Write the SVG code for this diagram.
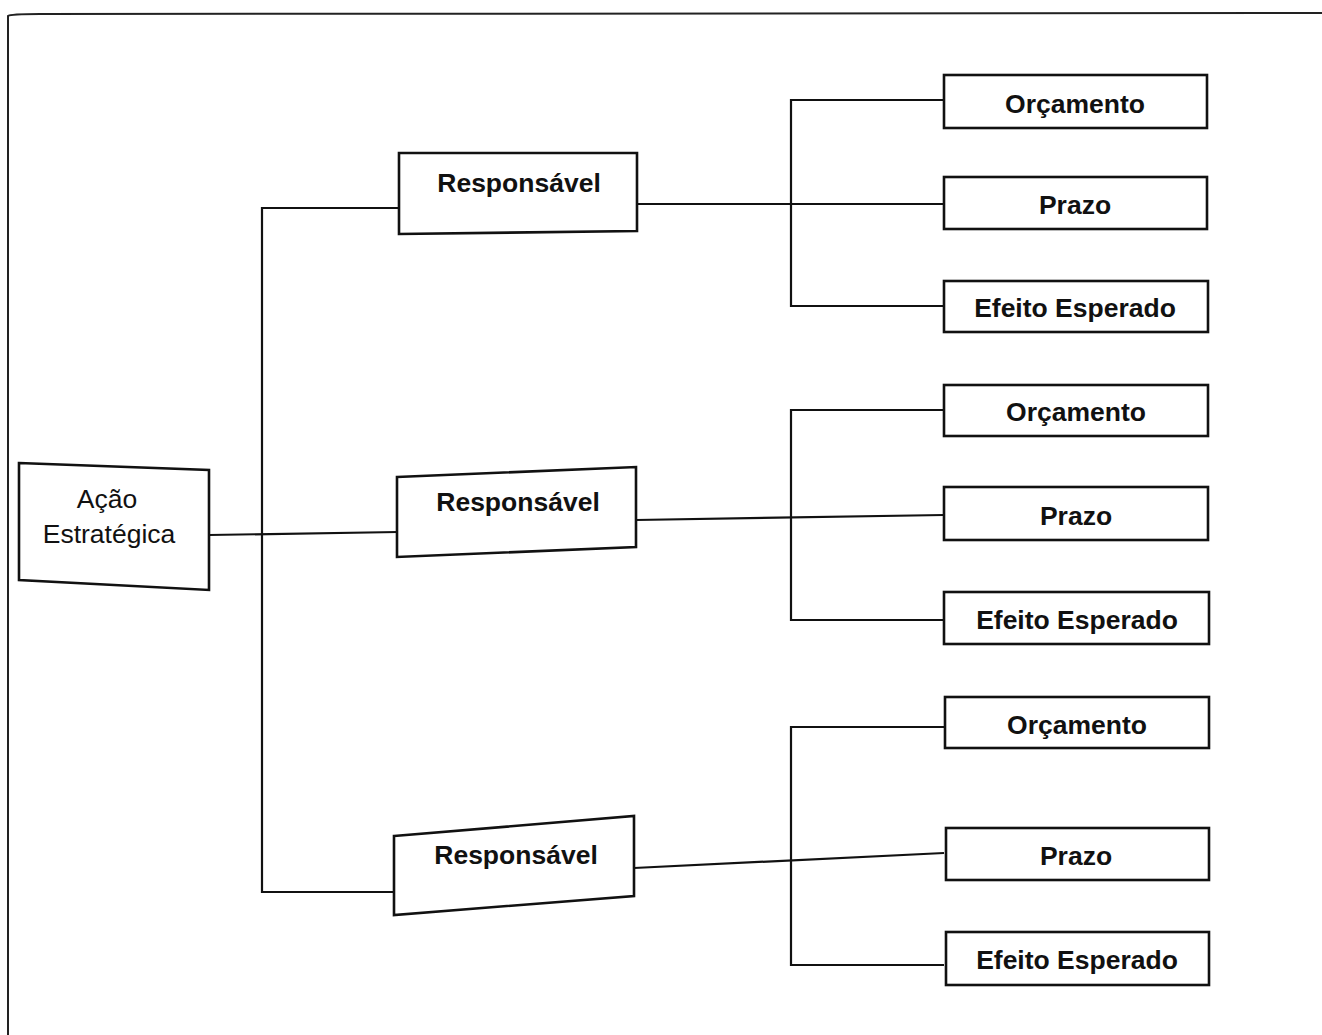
<svg xmlns="http://www.w3.org/2000/svg" width="1322" height="1035" viewBox="0 0 1322 1035">
<style>
.box{fill:#fff;stroke:#111;stroke-width:2.6;stroke-linejoin:miter}
.ln{fill:none;stroke:#111;stroke-width:2.2}
.frame{fill:none;stroke:#222;stroke-width:2}
text{font-family:"Liberation Sans",Arial,sans-serif;font-size:26.5px;font-weight:bold;fill:#111;text-anchor:middle;dominant-baseline:central}
</style>
<rect width="1322" height="1035" fill="#fff"/>
<path class="frame" d="M8,1035 V16 Q10,14 40,14 L1322,13"/>
<g id="connectors">
<path class="ln" d="M209,535 L398,532"/>
<path class="ln" d="M399,208 H262 V892 H394"/>
<path class="ln" d="M637,204 H944"/>
<path class="ln" d="M944,100 H791 V306 H944"/>
<path class="ln" d="M636,520 L944,515"/>
<path class="ln" d="M944,410 H791 V620 H944"/>
<path class="ln" d="M634,868 L944,853"/>
<path class="ln" d="M944,727 H791 V965 H944"/>
</g>
<g id="acao">
<polygon class="box" points="19,463 209,470 209,590 19,580"/>
<text x="107" y="499" style="font-weight:normal">Ação</text>
<text x="109" y="534" style="font-weight:normal">Estratégica</text>
</g>
<g id="resp1">
<polygon class="box" points="399,153 637,153 637,231 399,234"/>
<text x="519" y="183">Responsável</text>
</g>
<g id="resp2">
<polygon class="box" points="397,477 636,467 636,547 397,557"/>
<text x="518" y="502">Responsável</text>
</g>
<g id="resp3">
<polygon class="box" points="394,836 634,816 634,896 394,915"/>
<text x="516" y="855">Responsável</text>
</g>
<g id="orc1"><rect class="box" x="944" y="75" width="263" height="53"/><text x="1075" y="104">Orçamento</text></g>
<g id="prazo1"><rect class="box" x="944" y="177" width="263" height="52"/><text x="1075" y="205">Prazo</text></g>
<g id="efeito1"><rect class="box" x="944" y="281" width="264" height="51"/><text x="1075" y="308">Efeito Esperado</text></g>
<g id="orc2"><rect class="box" x="944" y="385" width="264" height="51"/><text x="1076" y="412">Orçamento</text></g>
<g id="prazo2"><rect class="box" x="944" y="487" width="264" height="53"/><text x="1076" y="516">Prazo</text></g>
<g id="efeito2"><rect class="box" x="944" y="592" width="265" height="52"/><text x="1077" y="620">Efeito Esperado</text></g>
<g id="orc3"><rect class="box" x="945" y="697" width="264" height="51"/><text x="1077" y="725">Orçamento</text></g>
<g id="prazo3"><rect class="box" x="946" y="828" width="263" height="52"/><text x="1076" y="856">Prazo</text></g>
<g id="efeito3"><rect class="box" x="946" y="932" width="263" height="53"/><text x="1077" y="960">Efeito Esperado</text></g>
</svg>
